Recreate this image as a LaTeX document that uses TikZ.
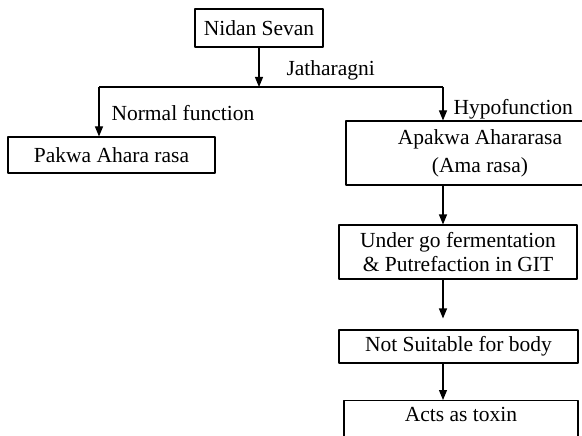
\documentclass[tikz,border=0pt]{standalone}
\usepackage{fontspec}
\setmainfont{Liberation Serif}
\usetikzlibrary{arrows.meta}
\begin{document}
\begin{tikzpicture}[x=1pt,y=-1pt,font=\fontsize{21.5}{24}\selectfont,line join=round,line width=1.1pt,>={Triangle[length=10pt,width=8pt]},
	box/.style={draw,align=center,inner sep=0pt},
	lab/.style={anchor=west,inner sep=0pt}]
			\clip (0,0) rectangle (582,436);
			\node[box,minimum width=128pt,minimum height=38pt] (nidan) at (259,28) {Nidan Sevan};
			\node[box,minimum width=207pt,minimum height=36pt] (pakwa) at (111.5,155) {Pakwa Ahara rasa};
			\node[box,minimum width=268pt,minimum height=64pt] (apakwa) at (480,153) {Apakwa Ahararasa\\[4pt](Ama rasa)};
			\node[box,minimum width=238pt,minimum height=54pt] (ferment) at (458,252) {Under go fermentation\\\& Putrefaction in GIT};
			\node[box,minimum width=239pt,minimum height=33pt] (suitable) at (458.5,346.5) {Not Suitable for body};
			\node[box,anchor=north,minimum width=234pt,inner ysep=7pt] (toxin) at (461,400) {\rule[-30pt]{0pt}{0pt}Acts as toxin};
			\node[lab] (jath) at (286,70) {Jatharagni};
			\node[lab] (normal) at (111,113) {Normal function};
			\node[lab] (hypo) at (453,109) {Hypofunction};
			\coordinate (split) at (259,87);
			\coordinate (lsplit) at (99,87);
			\coordinate (rsplit) at (443,87);
			\draw[->] (nidan.south) -- (split);
			\draw (lsplit) -- (rsplit);
			\draw[->] (lsplit) -- (lsplit |- pakwa.north);
			\draw[->] (rsplit) -- (rsplit |- apakwa.north);
			\foreach \a/\b/\gap in {apakwa/ferment/0pt, ferment/suitable/11pt, suitable/toxin/0pt} {
				\draw[->,shorten >=\gap] (\a.south -| rsplit) -- (\b.north -| rsplit);
			}
	\end{tikzpicture}
\end{document}
